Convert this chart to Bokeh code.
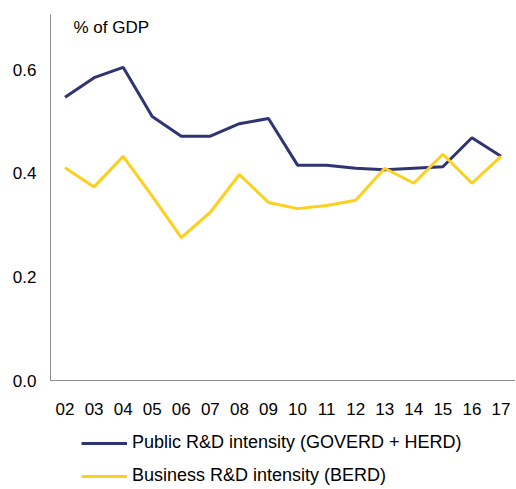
from bokeh.plotting import figure
from bokeh.layouts import column
from bokeh.models import Legend, LegendItem, Label, FactorRange, Range1d
from bokeh.embed import file_html
from bokeh.resources import INLINE

years = ["02", "03", "04", "05", "06", "07", "08", "09", "10", "11", "12", "13", "14", "15", "16", "17"]
public = [0.547, 0.585, 0.605, 0.510, 0.472, 0.472, 0.496, 0.506, 0.416, 0.416, 0.410, 0.407, 0.410, 0.413, 0.469, 0.433]
business = [0.411, 0.374, 0.433, 0.356, 0.276, 0.325, 0.398, 0.344, 0.332, 0.338, 0.348, 0.410, 0.381, 0.437, 0.381, 0.433]
y_ticks = [0.0, 0.2, 0.4, 0.6]
series_names = ["Public R&D intensity (GOVERD + HERD)", "Business R&D intensity (BERD)"]

FONT = "Liberation Sans"
NAVY = "#2e3572"
YELLOW = "#fdd020"

p = figure(width=515, height=426, x_range=FactorRange(*years, range_padding=0),
           y_range=Range1d(0, 0.707), output_backend="svg", toolbar_location=None,
           min_border_left=50, min_border_right=0, min_border_top=14, min_border_bottom=46)
p.outline_line_color = None
p.xgrid.grid_line_color = None
p.ygrid.grid_line_color = None

p.line(years, public, line_color=NAVY, line_width=3)
p.line(years, business, line_color=YELLOW, line_width=3)

for ax in (p.xaxis[0], p.yaxis[0]):
    ax.axis_line_color = "#8c8c8c"
    ax.axis_line_width = 1
    ax.major_tick_line_color = None
    ax.minor_tick_line_color = None
    ax.major_tick_out = 0
    ax.major_tick_in = 0
    ax.minor_tick_out = 0
    ax.major_label_text_font = FONT
    ax.major_label_text_font_size = "17px"
    ax.major_label_text_color = "#000000"

p.yaxis.ticker = y_ticks
p.yaxis.major_label_overrides = {t: f"{t:.1f}" for t in y_ticks}
p.yaxis.major_label_standoff = 14
p.xaxis.major_label_standoff = 22

p.add_layout(Label(x=0.79, y=0.682, text="% of GDP", text_font=FONT, text_baseline="alphabetic",
                   text_font_size="17px", text_color="#000000"))

# legend-only panel below the chart (lines kept out of view)
p2 = figure(width=515, height=60, x_range=FactorRange(*years, range_padding=0),
            y_range=Range1d(5, 6), output_backend="svg", toolbar_location=None,
            x_axis_type=None, y_axis_type=None,
            min_border_left=0, min_border_right=0, min_border_top=0, min_border_bottom=0)
p2.outline_line_color = None
l1 = p2.line(years, public, line_color=NAVY, line_width=3)
l2 = p2.line(years, business, line_color=YELLOW, line_width=3)

legend = Legend(items=[LegendItem(label=series_names[0], renderers=[l1]),
                       LegendItem(label=series_names[1], renderers=[l2])],
                orientation="vertical", location=(31, 0))
legend.label_text_font = FONT
legend.label_text_font_size = "18px"
legend.label_text_color = "#000000"
legend.glyph_width = 46
legend.glyph_height = 20
legend.label_height = 20
legend.spacing = 12
legend.label_standoff = 5
legend.border_line_color = None
legend.background_fill_alpha = 0
legend.margin = 0
legend.padding = 0
p2.add_layout(legend, "center")

layout = column(p, p2, spacing=0)
open("out.html", "w").write(file_html(layout, INLINE))
